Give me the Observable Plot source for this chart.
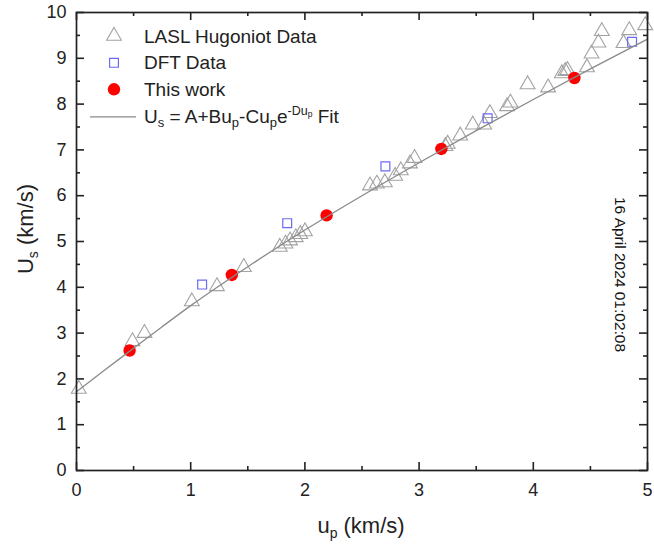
<!DOCTYPE html>
<html><head><meta charset="utf-8">
<script src="https://cdn.jsdelivr.net/npm/d3@7"></script>
<script src="https://cdn.jsdelivr.net/npm/@observablehq/plot@0.6"></script>
<style>body{margin:0;background:#fff;font-family:"Liberation Sans",Arial,sans-serif}</style>
</head><body><div id="chart"></div>
<script>
// LASL Hugoniot data (up, Us) in km/s
const laslUp = [0.02,0.49,0.595,1.01,1.23,1.465,1.78,1.83,1.87,1.92,1.96,2.0,2.57,2.63,2.70,2.79,2.84,2.92,2.96,3.23,3.25,3.36,3.47,3.57,3.62,3.77,3.80,3.95,4.13,4.25,4.28,4.30,4.47,4.51,4.57,4.60,4.79,4.84,4.98];
const laslUs = [1.78,2.82,3.00,3.69,4.02,4.44,4.88,4.95,5.02,5.09,5.16,5.22,6.22,6.26,6.29,6.43,6.55,6.70,6.82,7.08,7.13,7.31,7.55,7.55,7.80,7.95,8.03,8.43,8.36,8.67,8.72,8.74,8.80,9.10,9.34,9.59,9.33,9.61,9.72];
// DFT data
const dftUp = [1.10,1.845,2.705,3.60,4.865];
const dftUs = [4.06,5.40,6.64,7.69,9.36];
// This work
const workUp = [0.465,1.36,2.19,3.195,4.36];
const workUs = [2.62,4.27,5.57,7.02,8.57];
// Fit curve
const fitUp = [0,0.25,0.5,0.75,1,1.5,2,2.5,3,3.5,4,4.5,5];
const fitUs = [1.72,2.20,2.67,3.14,3.60,4.45,5.25,6.00,6.72,7.42,8.10,8.77,9.42];
// Ticks
const xTicks = [0,1,2,3,4,5];
const xMinor = [0.5,1.5,2.5,3.5,4.5];
const yTicks = [0,1,2,3,4,5,6,7,8,9,10];
const yMinor = [0.5,1.5,2.5,3.5,4.5,5.5,6.5,7.5,8.5,9.5];
const stamp = "16 April 2024 01:02:08";

const lasl = laslUp.map((u,i)=>({u, U: laslUs[i]}));
const dft = dftUp.map((u,i)=>({u, U: dftUs[i]}));
const work = workUp.map((u,i)=>({u, U: workUs[i]}));
const fit = fitUp.map((u,i)=>({u, U: fitUs[i]}));

const W = 654, H = 559, mL = 76, mR = 7, mT = 12, mB = 89;
const pw = W - mL - mR, ph = H - mT - mB;
const ink = "#222";
const fmt = d3.format("d");
const rTri = 5.5, rSq = 5.0, rDot = 6.2;

const svg = Plot.plot({
  width: W, height: H,
  marginLeft: mL, marginRight: mR, marginTop: mT, marginBottom: mB,
  style: {fontFamily: '"Liberation Sans", Arial, sans-serif', background: "#fff", overflow: "visible"},
  x: {domain: [0,5]},
  y: {domain: [0,10]},
  marks: [
    Plot.axisX(xTicks, {tickSize: 0, tickPadding: 13, fontSize: 18, fill: "#222", label: null, tickFormat: fmt}),
    Plot.axisY(yTicks, {tickSize: 0, tickPadding: 10, fontSize: 18, fill: "#222", label: null, tickFormat: fmt}),
    // inward ticks, all four sides
    Plot.tickX(xTicks, {x: d=>d, insetTop: ph-8, stroke: ink, strokeWidth: 1.6}),
    Plot.tickX(xTicks, {x: d=>d, insetBottom: ph-8, stroke: ink, strokeWidth: 1.6}),
    Plot.tickX(xMinor, {x: d=>d, insetTop: ph-4, stroke: ink, strokeWidth: 1.6}),
    Plot.tickX(xMinor, {x: d=>d, insetBottom: ph-4, stroke: ink, strokeWidth: 1.6}),
    Plot.tickY(yTicks, {y: d=>d, insetRight: pw-8, stroke: ink, strokeWidth: 1.6}),
    Plot.tickY(yTicks, {y: d=>d, insetLeft: pw-8, stroke: ink, strokeWidth: 1.6}),
    Plot.tickY(yMinor, {y: d=>d, insetRight: pw-4, stroke: ink, strokeWidth: 1.6}),
    Plot.tickY(yMinor, {y: d=>d, insetLeft: pw-4, stroke: ink, strokeWidth: 1.6}),
    Plot.dot(lasl, {x: "u", y: "U", symbol: "triangle", r: rTri, stroke: "#a3a3a3", strokeWidth: 1.1, fill: "none"}),
    Plot.dot(dft, {x: "u", y: "U", symbol: "square", r: rSq, stroke: "#6a6af5", strokeWidth: 1.2, fill: "none"}),
    Plot.dot(work, {x: "u", y: "U", r: rDot, fill: "#ff0000", stroke: "none"}),
    Plot.line(fit, {x: "u", y: "U", curve: "monotone-x", stroke: "#8a8a8a", strokeWidth: 1.3}),
    Plot.text([stamp], {text: d=>d, frameAnchor: "right", textAnchor: "middle", rotate: 90, dx: -28, dy: 33, fontSize: 15.5, fill: "#111"}),
    Plot.frame({stroke: ink, strokeWidth: 1.7})
  ]
});
document.getElementById("chart").appendChild(svg);

const s = d3.select(svg);
const g = s.append("g").attr("font-family", '"Liberation Sans", Arial, sans-serif').attr("fill", "#222");

// axis titles with subscripts
const yl = g.append("text").attr("transform", "translate(33,229) rotate(-90)").attr("text-anchor", "middle").attr("font-size", 22);
yl.append("tspan").text("U");
yl.append("tspan").attr("font-size", 14).attr("dy", 5).text("s");
yl.append("tspan").attr("dy", -5).text(" (km/s)");

const xl = g.append("text").attr("x", 361).attr("y", 533).attr("text-anchor", "middle").attr("font-size", 22);
xl.append("tspan").text("u");
xl.append("tspan").attr("font-size", 14).attr("dy", 5).text("p");
xl.append("tspan").attr("dy", -5).text(" (km/s)");

// legend
const lx = 114, tx = 144, fs = 19;
const rows = [43, 69.3, 96, 123.3];
g.append("path").attr("transform", `translate(${lx},${rows[0]-7})`).attr("d", d3.symbol(d3.symbolTriangle, Math.PI*rTri*rTri)()).attr("fill", "none").attr("stroke", "#a3a3a3").attr("stroke-width", 1.1);
g.append("path").attr("transform", `translate(${lx},${rows[1]-6.5})`).attr("d", d3.symbol(d3.symbolSquare, Math.PI*rSq*rSq)()).attr("fill", "none").attr("stroke", "#6a6af5").attr("stroke-width", 1.2);
g.append("circle").attr("cx", lx).attr("cy", rows[2]-6.7).attr("r", rDot).attr("fill", "#ff0000");
g.append("line").attr("x1", 90).attr("x2", 136).attr("y1", rows[3]-6.5).attr("y2", rows[3]-6.5).attr("stroke", "#8a8a8a").attr("stroke-width", 1.3);
["LASL Hugoniot Data", "DFT Data", "This work"].forEach((t,i)=>{
  g.append("text").attr("x", tx).attr("y", rows[i]).attr("text-anchor", "start").attr("font-size", fs).text(t);
});
const ft = g.append("text").attr("x", tx).attr("y", rows[3]).attr("text-anchor", "start").attr("font-size", fs);
ft.append("tspan").text("U");
ft.append("tspan").attr("font-size", 13).attr("dy", 4).text("s");
ft.append("tspan").attr("dy", -4).text(" = A+Bu");
ft.append("tspan").attr("font-size", 13).attr("dy", 4).text("p");
ft.append("tspan").attr("dy", -4).text("-Cu");
ft.append("tspan").attr("font-size", 13).attr("dy", 4).text("p");
ft.append("tspan").attr("dy", -4).text("e");
ft.append("tspan").attr("font-size", 12.5).attr("dy", -8).text("-Du");
ft.append("tspan").attr("font-size", 8.5).attr("dy", 2).text("p");
ft.append("tspan").attr("dy", 6).text(" Fit");
</script>
</body></html>
